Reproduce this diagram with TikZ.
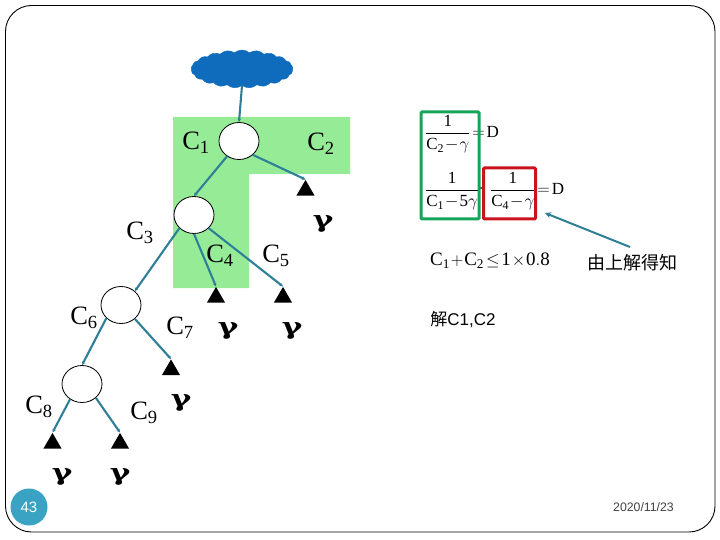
\documentclass[tikz,border=0pt]{standalone}
\usepackage{fontspec}
\setmainfont{Liberation Serif}
\setsansfont{Liberation Sans}
\newfontfamily\cjkf{Noto Sans CJK TC}
\newfontfamily\gamf{DejaVu Serif}
\usetikzlibrary{shapes.geometric,shapes.symbols,arrows.meta}
\definecolor{teal1}{HTML}{2F7F97}
\definecolor{grn}{HTML}{96EB96}
\definecolor{cloudb}{HTML}{0F6CBD}
\definecolor{boxg}{HTML}{16A35A}
\definecolor{boxr}{HTML}{C9141E}
\definecolor{badge}{HTML}{3AA3C4}
\tikzset{
  x=1pt,y=-1pt,
  tree/.style={draw=black,fill=white,ellipse,line width=0.8pt,minimum width=40pt,minimum height=37pt,inner sep=0pt},
  leaf/.style={fill=black,regular polygon,regular polygon sides=3,minimum size=21pt,inner sep=0pt,anchor=corner 1},
  edge/.style={draw=teal1,line width=2.1pt,-{Stealth[length=3.5pt,width=3.5pt]}},
  clab/.style={font=\fontsize{26.5}{26.5}\selectfont,inner sep=0pt},
  gam/.style={font=\fontsize{23}{23}\selectfont\gamf\bfseries,inner sep=0pt},
  eq/.style={font=\fontsize{17}{17}\selectfont,inner sep=0pt},
  framebox/.style={line width=3pt,rounded corners=1pt},
}
\newcommand{\CC}[1]{$\mathrm{C}_{\mathrm{#1}}$}
\newcommand{\GG}{\scalebox{1.35}[1]{γ}}
\begin{document}
\begin{tikzpicture}
\medmuskip=1mu \thickmuskip=2mu
\useasboundingbox (0,0) rectangle (720,540);
\draw[black,line width=0.9pt,rounded corners=26pt] (5.5,5.5) rectangle (715,532);
\fill[grn] (173,117) -- (350,117) -- (350,174) -- (249,174) -- (249,288) -- (173,288) -- cycle;
\node[cloud,cloud puffs=21,cloud puff arc=80,aspect=3,fill=cloudb,draw=cloudb,minimum width=102pt,minimum height=38pt,inner sep=0pt] (cl) at (242,69) {};
\node[tree] (n1) at (239,141) {};
\node[tree] (n2) at (194,215) {};
\node[tree] (n3) at (121,305) {};
\node[tree] (n4) at (82,384) {};
\node[leaf] (t1) at (305.5,179.5) {};
\node[leaf] (t2) at (216,286.5) {};
\node[leaf] (t3) at (283,286.5) {};
\node[leaf] (t4) at (171,359) {};
\node[leaf] (t5) at (52.5,432.5) {};
\node[leaf] (t6) at (120,432.5) {};
\draw[edge] (cl.south) -- (n1.north);
\draw[edge] (n1.232) -- (n2.north);
\draw[edge] (n1.-45) -- (t1.corner 1);
\draw[edge] (n2.222) -- (n3.45);
\draw[edge] (n2.-90) -- (t2.corner 1);
\draw[edge] (n2.-42) -- (t3.corner 1);
\draw[edge] (n3.222) -- (n4.north);
\draw[edge] (n3.-45) -- (t4.corner 1);
\draw[edge] (n4.232) -- (t5.corner 1);
\draw[edge] (n4.-45) -- (t6.corner 1);
\node[clab] (c1) at (196,143) {\CC{1}};
\node[clab] (c2) at (321,144) {\CC{2}};
\node[clab] (c3) at (140,233) {\CC{3}};
\node[clab] (c4) at (220,256) {\CC{4}};
\node[clab] (c5) at (276,256) {\CC{5}};
\node[clab] (c6) at (84,318) {\CC{6}};
\node[clab] (c7) at (180,328) {\CC{7}};
\node[clab] (c8) at (39,407) {\CC{8}};
\node[clab] (c9) at (144,413) {\CC{9}};
\node[gam] (g1) at (323,224) {\GG};
\node[gam] (g2) at (228,331) {\GG};
\node[gam] (g3) at (292,331) {\GG};
\node[gam] (g4) at (181,403) {\GG};
\node[gam] (g5) at (62,477) {\GG};
\node[gam] (g6) at (120,477) {\GG};
\node[eq,anchor=west] (e1) at (425,134) {$\displaystyle\frac{\mathrm{1}}{\mathrm{C}_{\mathrm{2}}-\gamma}=\mathrm{D}$};
\node[eq,anchor=west] (e2) at (425,191) {$\displaystyle\frac{\mathrm{1}}{\mathrm{C}_{\mathrm{1}}-\mathrm{5}\gamma}$};
\node[eq,anchor=west] (e3) at (490,191) {$\displaystyle\frac{\mathrm{1}}{\mathrm{C}_{\mathrm{4}}-\gamma}=\mathrm{D}$};
\node[eq,inner sep=0pt] (pl) at (481.5,190.5) {-};
\node[draw=boxg,framebox,minimum width=58pt,minimum height=107pt,inner sep=0pt] (bg) at (450,165.5) {};
\node[draw=boxr,framebox,minimum width=52pt,minimum height=51pt,inner sep=0pt] (br) at (509.5,193.5) {};
\node[font=\fontsize{19}{19}\selectfont,inner sep=0pt] (e4) at (490,261) {$\mathrm{C}_{\mathrm{1}}+\mathrm{C}_{\mathrm{2}}\leq\mathrm{1}\times\mathrm{0.8}$};
\node[font=\fontsize{18}{18}\selectfont\cjkf,inner sep=0pt] (tx1) at (632.5,262.5) {由上解得知};
\node[font=\fontsize{17}{17}\selectfont,inner sep=0pt] (tx2) at (463,319) {{\cjkf 解}\sffamily C1,C2};
\coordinate (as) at (630,247);
\coordinate (ae) at (545,213);
\draw[draw=teal1,line width=2pt,-{Stealth[length=6pt,width=6pt]}] (as) -- (ae);
\node[circle,fill=badge,minimum size=37pt,inner sep=0pt,text=white,font=\fontsize{15}{15}\selectfont\sffamily] (pg) at (29,507) {43};
\node[font=\fontsize{12.3}{12.3}\selectfont\sffamily,text=black!75,inner sep=0pt] (dt) at (643.5,507.5) {2020/11/23};
\end{tikzpicture}
\end{document}
